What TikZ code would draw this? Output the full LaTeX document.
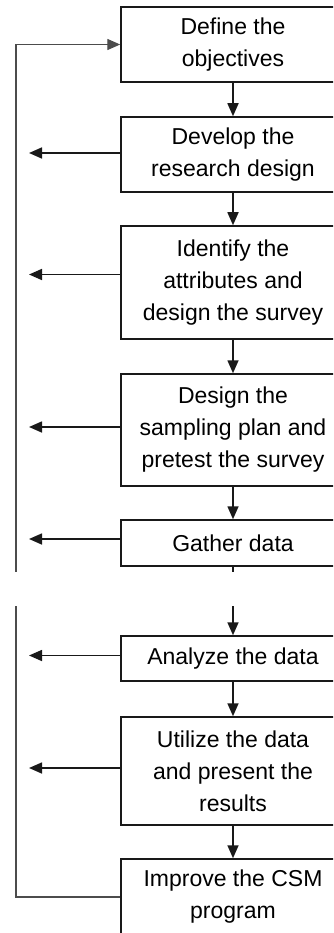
\documentclass[tikz,border=0pt]{standalone}
\usepackage{fontspec}
\setmainfont{Liberation Sans}
\usetikzlibrary{arrows.meta}
\begin{document}
\begin{tikzpicture}[x=1pt,y=-1pt,
    stepbox/.style={draw=black!90,line width=1.5pt,text=black,minimum width=224pt,
        align=center,inner sep=0pt,font=\fontsize{23}{32}\selectfont},
    flow/.style={-{Triangle[length=13pt,width=11pt]},line width=1.6pt,draw=black!90},
    loopline/.style={-{Triangle[length=13pt,width=11pt]},line width=1.4pt,draw=black!70}]
    \useasboundingbox (0,0) rectangle (333,933);
    \clip (0,0) rectangle (333,933);

    \node[stepbox,minimum height=75pt] (obj) at (233,44.5) {Define the\\objectives};
    \node[stepbox,minimum height=75pt] (res) at (233,154.5) {Develop the\\research design};
    \node[stepbox,minimum height=113pt] (attr) at (233,282.5) {Identify the\\attributes and\\design the survey};
    \node[stepbox,minimum height=112pt] (samp) at (233,430) {Design the\\sampling plan and\\pretest the survey};
    \node[stepbox,minimum height=46pt] (gath) at (233,543) {Gather data};
    \node[stepbox,minimum height=45pt] (anal) at (233,658.5) {Analyze the data};
    \node[stepbox,minimum height=108pt] (util) at (233,771) {Utilize the data\\and present the\\results};
    \node[stepbox,minimum height=76pt] (impr) at (233,897) {Improve the CSM\\program};
    \coordinate (tip) at (29,0);
    \coordinate (rail) at (16,0);

    \foreach \a/\b in {obj/res,res/attr,attr/samp,samp/gath,gath/anal,anal/util,util/impr}
        \draw[flow] (\a) -- (\b);
    \foreach \n/\dy in {res/1.5,attr/8,samp/3,gath/4,anal/3,util/3}
        \draw[flow] ([yshift=\dy pt]\n.west) -- ([yshift=\dy pt]\n.west -| tip);
    \draw[loopline] (impr.west) -- (impr.west -| rail) -- (obj.west -| rail) -- (obj.west);

    % break in the page
    \fill[white] (0,572) rectangle (333,606);
\end{tikzpicture}
\end{document}
